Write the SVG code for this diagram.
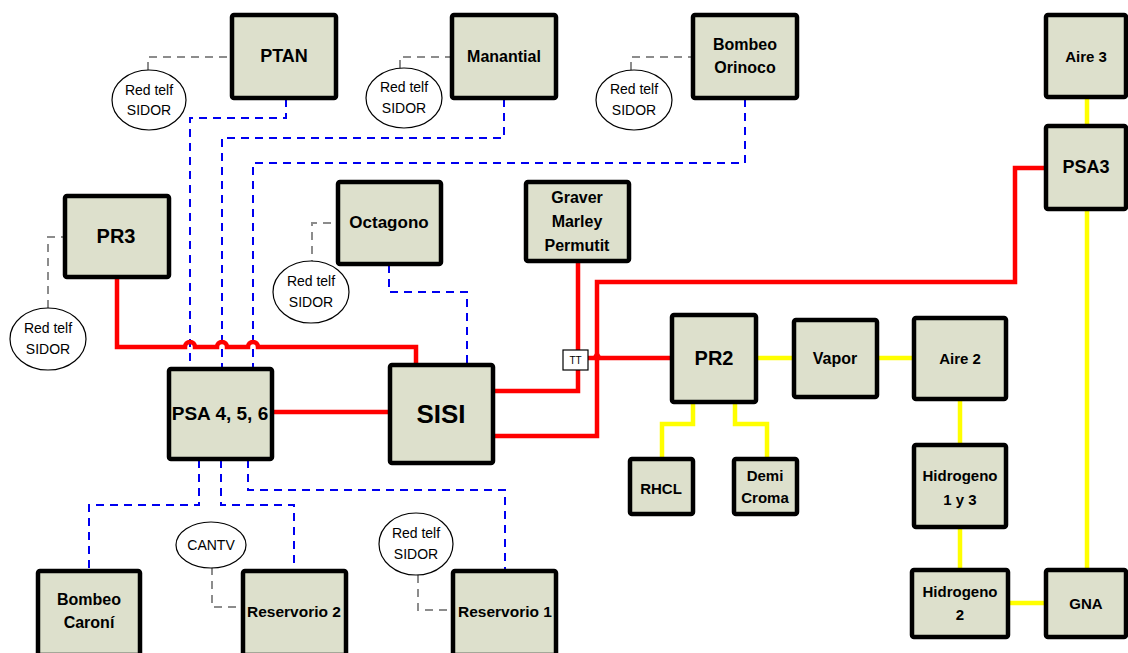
<svg xmlns="http://www.w3.org/2000/svg" width="1128" height="653" viewBox="0 0 1128 653">
<style>
.n{fill:#dde0cc;stroke:#000;stroke-width:4.5}
.t{font-family:"Liberation Sans",Arial,sans-serif;font-weight:bold;fill:#000;text-anchor:middle;dominant-baseline:central}
.e{fill:#fff;stroke:#000;stroke-width:1.2}
.et{font-family:"Liberation Sans",Arial,sans-serif;font-size:14px;fill:#000;text-anchor:middle;dominant-baseline:central}
.r{fill:none;stroke:#f00;stroke-width:4.5;stroke-linejoin:miter}
.y{fill:none;stroke:#ff0;stroke-width:4.5}
.b{fill:none;stroke:#0000f0;stroke-width:2;stroke-dasharray:8 6}
.g{fill:none;stroke:#8c8c8c;stroke-width:2;stroke-dasharray:8 6}
</style>
<rect width="1128" height="653" fill="#fff"/>
<g id="connectors">
<path class="g" d="M148,70 V57 H232"/>
<path class="g" d="M400,68 V57 H451"/>
<path class="g" d="M631,70 V57 H692"/>
<path class="g" d="M48,308 V237 H63"/>
<path class="g" d="M312,268 V223 H336"/>
<path class="g" d="M212,567 V607 H241"/>
<path class="g" d="M418,575 V610 H451"/>
<path class="b" d="M286,99 V118 H190 V368"/>
<path class="b" d="M504,99 V138 H222 V368"/>
<path class="b" d="M745,99 V163 H253 V368"/>
<path class="b" d="M389,265 V292 H467 V363"/>
<path class="b" d="M199,460 V505 H89 V569"/>
<path class="b" d="M221,460 V505 H294 V569"/>
<path class="b" d="M248,460 V490 H505 V569"/>
<path class="r" d="M117,278 V347 H185 a5,5 0 0 1 10,0 H217 a5,5 0 0 1 10,0 H248 a5,5 0 0 1 10,0 H416 V364"/>
<path class="r" d="M273,412 H388"/>
<path class="r" d="M578,262 V391 H495"/>
<path class="r" d="M495,436 H597 V282 H1015 V168 H1045"/>
<path class="r" d="M588,358 H671"/>
<path d="M591,360 L597,350 L603,360 Z" fill="#f00"/>
<path class="y" d="M757,358 H792"/>
<path class="y" d="M878,358 H913"/>
<path class="y" d="M693,403 V424 H662 V457"/>
<path class="y" d="M735,403 V424 H767 V457"/>
<path class="y" d="M960,400 V443"/>
<path class="y" d="M960,528 V568"/>
<path class="y" d="M1009,603 H1045"/>
<path class="y" d="M1087,98 V125"/>
<path class="y" d="M1087,210 V568"/>
</g>
<g id="tt"><rect x="563" y="350" width="25" height="20" fill="#fff" stroke="#000" stroke-width="1.2"/><text x="575.5" y="360" class="et" style="font-size:10px">TT</text></g>
<g id="e-ptan"><ellipse class="e" cx="149" cy="100" rx="37" ry="30"/><text class="et" x="149" y="90">Red telf</text><text class="et" x="149" y="110">SIDOR</text></g>
<g id="e-manantial"><ellipse class="e" cx="404" cy="98" rx="38" ry="30"/><text class="et" x="404" y="87">Red telf</text><text class="et" x="404" y="108">SIDOR</text></g>
<g id="e-orinoco"><ellipse class="e" cx="634" cy="100" rx="38" ry="30"/><text class="et" x="634" y="89">Red telf</text><text class="et" x="634" y="110">SIDOR</text></g>
<g id="e-pr3"><ellipse class="e" cx="48" cy="339" rx="38" ry="31"/><text class="et" x="48" y="328">Red telf</text><text class="et" x="48" y="349">SIDOR</text></g>
<g id="e-octagono"><ellipse class="e" cx="311" cy="292" rx="38" ry="31"/><text class="et" x="311" y="281">Red telf</text><text class="et" x="311" y="302">SIDOR</text></g>
<g id="e-cantv"><ellipse class="e" cx="211" cy="545" rx="35" ry="23"/><text class="et" x="211" y="545">CANTV</text></g>
<g id="e-res1"><ellipse class="e" cx="416" cy="544" rx="37" ry="31"/><text class="et" x="416" y="533">Red telf</text><text class="et" x="416" y="554">SIDOR</text></g>

<g id="ptan"><rect class="n" x="232" y="15" width="104" height="83" rx="2"/><text class="t" x="284" y="56" font-size="18">PTAN</text></g>
<g id="manantial"><rect class="n" x="452" y="15" width="104" height="83" rx="2"/><text class="t" x="504" y="56" font-size="16">Manantial</text></g>
<g id="bombeo-orinoco"><rect class="n" x="693" y="15" width="104" height="83" rx="2"/><text class="t" x="745" y="44" font-size="16">Bombeo</text><text class="t" x="745" y="67" font-size="16">Orinoco</text></g>
<g id="aire3"><rect class="n" x="1046" y="15" width="80" height="82" rx="2"/><text class="t" x="1086" y="56" font-size="15">Aire 3</text></g>
<g id="psa3"><rect class="n" x="1046" y="126" width="80" height="83" rx="2"/><text class="t" x="1086" y="167" font-size="18">PSA3</text></g>
<g id="pr3"><rect class="n" x="65" y="196" width="104" height="81" rx="2"/><text class="t" x="116" y="236" font-size="20">PR3</text></g>
<g id="octagono"><rect class="n" x="338" y="182" width="103" height="82" rx="2"/><text class="t" x="389" y="222" font-size="17">Octagono</text></g>
<g id="graver"><rect class="n" x="526" y="182" width="103" height="79" rx="2"/><text class="t" x="577" y="197" font-size="16">Graver</text><text class="t" x="577" y="221" font-size="16">Marley</text><text class="t" x="577" y="245" font-size="16">Permutit</text></g>
<g id="psa456"><rect class="n" x="169" y="369" width="103" height="90" rx="2"/><text class="t" x="220" y="413" font-size="19">PSA 4, 5, 6</text></g>
<g id="sisi"><rect class="n" x="390" y="365" width="103" height="98" rx="2"/><text class="t" x="441" y="414" font-size="26">SISI</text></g>
<g id="pr2"><rect class="n" x="672" y="315" width="84" height="87" rx="2"/><text class="t" x="714" y="358" font-size="20">PR2</text></g>
<g id="vapor"><rect class="n" x="794" y="320" width="83" height="77" rx="2"/><text class="t" x="835" y="358" font-size="16">Vapor</text></g>
<g id="aire2"><rect class="n" x="914" y="318" width="92" height="81" rx="2"/><text class="t" x="960" y="358" font-size="15">Aire 2</text></g>
<g id="rhcl"><rect class="n" x="630" y="459" width="63" height="55" rx="2"/><text class="t" x="661" y="488" font-size="15">RHCL</text></g>
<g id="demi-croma"><rect class="n" x="734" y="459" width="63" height="55" rx="2"/><text class="t" x="765" y="475" font-size="15">Demi</text><text class="t" x="765" y="497" font-size="15">Croma</text></g>
<g id="hidrogeno13"><rect class="n" x="914" y="445" width="92" height="82" rx="2"/><text class="t" x="960" y="475" font-size="15">Hidrogeno</text><text class="t" x="960" y="499" font-size="15">1 y 3</text></g>
<g id="hidrogeno2"><rect class="n" x="912" y="570" width="96" height="67" rx="2"/><text class="t" x="960" y="591" font-size="15">Hidrogeno</text><text class="t" x="960" y="614" font-size="15">2</text></g>
<g id="gna"><rect class="n" x="1046" y="570" width="80" height="67" rx="2"/><text class="t" x="1086" y="603" font-size="15">GNA</text></g>
<g id="bombeo-caroni"><rect class="n" x="38" y="571" width="102" height="84" rx="2"/><text class="t" x="89" y="599" font-size="16">Bombeo</text><text class="t" x="89" y="622" font-size="16">Caroní</text></g>
<g id="reservorio2"><rect class="n" x="243" y="571" width="103" height="84" rx="2"/><text class="t" x="294" y="611" font-size="15.5">Reservorio 2</text></g>
<g id="reservorio1"><rect class="n" x="453" y="571" width="103" height="84" rx="2"/><text class="t" x="505" y="611" font-size="15.5">Reservorio 1</text></g>
</svg>
